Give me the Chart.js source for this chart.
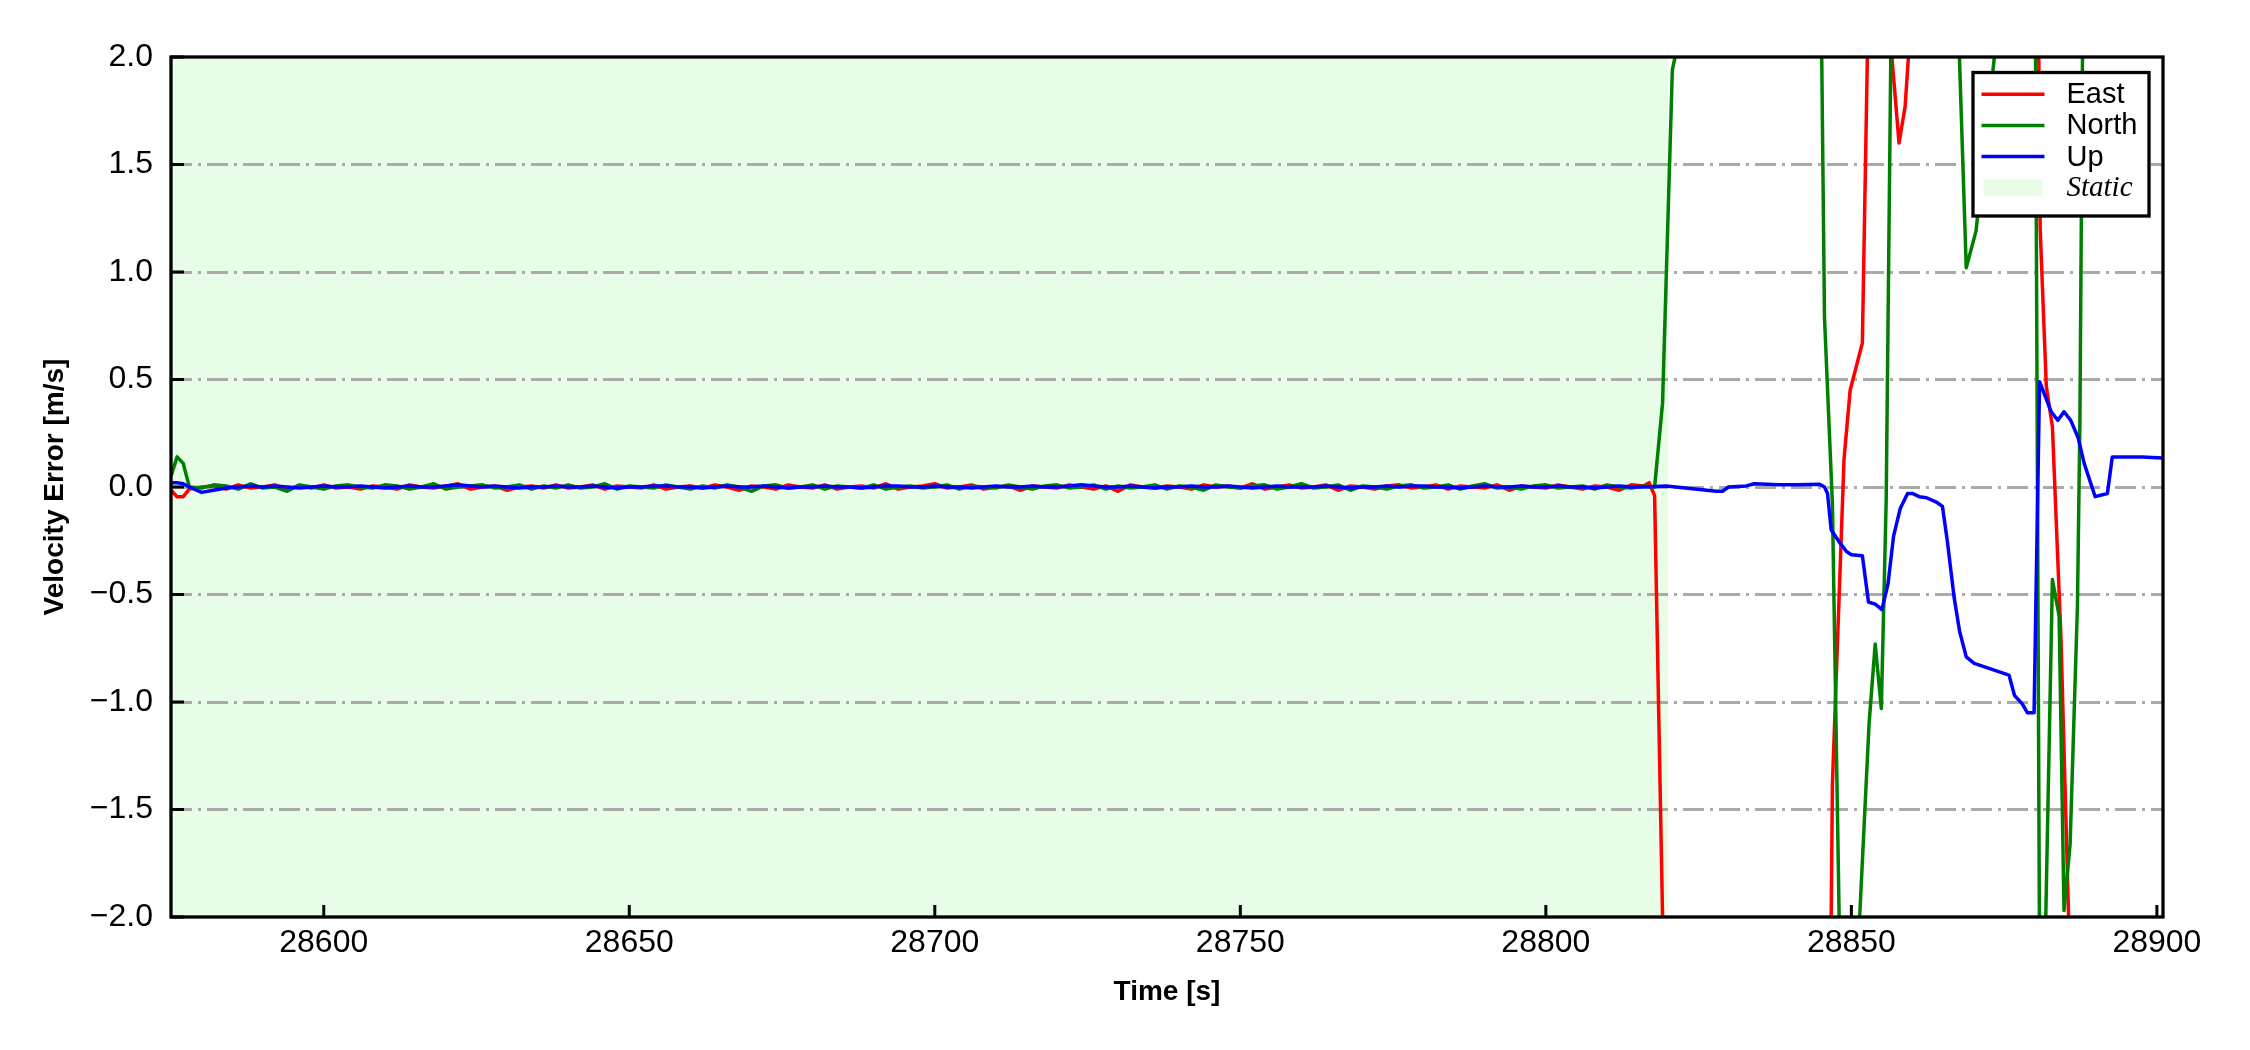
<!DOCTYPE html>
<html lang="en">
  <head>
    <meta charset="UTF-8" />
    <meta name="viewport" content="width=device-width, initial-scale=1.0" />
    <script src="https://cdn.jsdelivr.net/npm/chart.js@4.4.1/dist/chart.umd.min.js"></script>
    <title>Velocity Error</title>
    <style>
      html,
      body {
        margin: 0;
        padding: 0;
        background-color: rgb(255, 255, 255);
      }

      canvas {
        display: block;
      }
    </style>
  </head>
  <body>
    <canvas id="myChart" width="2250" height="1050"></canvas>
    <script>
      // static part: every series sampled at the same times
      const flatTimes = [
        28575, 28576, 28577, 28578,
        28580, 28582, 28584, 28586, 28588, 28590, 28592, 28594, 28596, 28598,
        28600, 28602, 28604, 28606, 28608, 28610, 28612, 28614, 28616, 28618,
        28620, 28622, 28624, 28626, 28628, 28630, 28632, 28634, 28636, 28638,
        28640, 28642, 28644, 28646, 28648, 28650, 28652, 28654, 28656, 28658,
        28660, 28662, 28664, 28666, 28668, 28670, 28672, 28674, 28676, 28678,
        28680, 28682, 28684, 28686, 28688, 28690, 28692, 28694, 28696, 28698,
        28700, 28702, 28704, 28706, 28708, 28710, 28712, 28714, 28716, 28718,
        28720, 28722, 28724, 28726, 28728, 28730, 28732, 28734, 28736, 28738,
        28740, 28742, 28744, 28746, 28748, 28750, 28752, 28754, 28756, 28758,
        28760, 28762, 28764, 28766, 28768, 28770, 28772, 28774, 28776, 28778,
        28780, 28782, 28784, 28786, 28788, 28790, 28792, 28794, 28796, 28798,
        28800, 28802, 28804, 28806, 28808, 28810, 28812, 28814, 28816
      ];

      const eastFlat = [
        -0.015, -0.045, -0.045, -0.01,
        0.0, 0.005, -0.01, 0.01, -0.005, 0.0, 0.01, -0.01, 0.005, -0.005,
        0.01, -0.005, 0.0, -0.01, 0.005, 0.0, -0.01, 0.01, 0.0, -0.005,
        0.005, 0.015, -0.01, 0.0, 0.005, -0.015, 0.0, 0.005, -0.005, 0.01,
        -0.005, 0.0, 0.01, -0.01, 0.005, 0.0, -0.005, 0.01, -0.01, 0.0,
        0.005, -0.005, 0.01, 0.0, -0.015, 0.005, 0.0, -0.01, 0.01, 0.0,
        -0.005, 0.01, -0.01, 0.0, 0.005, -0.005, 0.015, -0.01, 0.0, 0.005,
        0.015, -0.005, 0.0, 0.01, -0.01, 0.0, 0.005, -0.015, 0.005, 0.0,
        -0.005, 0.01, 0.0, -0.01, 0.005, -0.02, 0.01, 0.0, -0.005, 0.005,
        0.0, -0.01, 0.01, 0.0, 0.005, -0.005, 0.015, -0.01, 0.0, 0.01,
        -0.005, 0.0, 0.01, -0.015, 0.005, 0.0, -0.01, 0.005, 0.01, -0.005,
        0.0, 0.01, -0.01, 0.005, 0.0, -0.005, 0.01, -0.015, 0.005, 0.0,
        -0.005, 0.01, 0.0, -0.01, 0.005, 0.0, -0.015, 0.01, 0.005
      ];

      const northFlat = [
        0.05, 0.14, 0.11, 0.0,
        -0.005, 0.01, 0.005, -0.01, 0.015, -0.005, 0.0, -0.02, 0.01, 0.0,
        -0.01, 0.005, 0.01, 0.0, -0.005, 0.01, 0.005, -0.01, 0.0, 0.015,
        -0.01, 0.0, 0.005, 0.01, -0.005, 0.0, 0.01, -0.01, 0.005, -0.005,
        0.01, -0.005, 0.0, 0.015, -0.01, 0.005, 0.0, -0.005, 0.01, 0.0,
        -0.01, 0.005, -0.005, 0.01, 0.0, -0.02, 0.005, 0.01, -0.005, 0.0,
        0.01, -0.01, 0.005, 0.0, -0.005, 0.01, -0.01, 0.0, 0.005, -0.005,
        0.0, 0.01, -0.01, 0.005, 0.0, -0.005, 0.01, 0.0, -0.01, 0.005,
        0.01, -0.005, 0.0, 0.01, -0.01, 0.005, -0.005, 0.0, 0.01, -0.01,
        0.005, 0.0, -0.015, 0.01, 0.0, -0.005, 0.005, 0.01, -0.01, 0.0,
        0.015, -0.005, 0.0, 0.01, -0.015, 0.005, 0.0, -0.01, 0.005, 0.01,
        -0.005, 0.0, 0.01, -0.01, 0.005, 0.015, -0.005, 0.0, -0.01, 0.005,
        0.01, -0.005, 0.0, 0.005, -0.01, 0.01, 0.0, -0.005, 0.005
      ];

      const upFlat = [
        0.02, 0.02, 0.015, 0.0,
        -0.025, -0.015, -0.005, 0.0, 0.005, 0.0, 0.005, 0.0, -0.005, 0.0,
        0.005, 0.0, 0.0, 0.005, 0.0, -0.005, 0.0, 0.005, 0.0, 0.0,
        0.005, 0.01, 0.005, 0.0, 0.005, 0.0, -0.005, 0.0, 0.0, 0.005,
        0.0, 0.0, 0.005, 0.0, -0.005, 0.0, 0.0, 0.005, 0.005, 0.0,
        0.0, -0.005, 0.0, 0.005, 0.0, 0.0, 0.005, 0.0, -0.005, 0.0,
        0.0, 0.005, 0.0, 0.0, -0.005, 0.0, 0.005, 0.005, 0.0, 0.0,
        0.005, 0.0, 0.0, -0.005, 0.0, 0.005, 0.0, 0.0, 0.005, 0.0,
        0.0, 0.005, 0.01, 0.005, 0.0, 0.0, 0.005, 0.0, -0.005, 0.0,
        0.0, 0.005, 0.0, 0.0, 0.005, 0.0, -0.005, 0.0, 0.005, 0.0,
        0.0, 0.0, 0.005, 0.0, -0.005, 0.0, 0.0, 0.005, 0.0, 0.005,
        0.005, 0.0, 0.0, -0.005, 0.0, 0.005, 0.0, 0.0, 0.005, 0.0,
        0.0, 0.005, 0.0, 0.0, -0.005, 0.0, 0.005, 0.0, 0.0
      ];

      // after the static part (values past +-2 are off the plot)
      const eastTimes = [
        28816.9, 28817.8, 28819.5, 28830, 28840, 28846.5, 28846.9, 28848.8,
        28849.8, 28851.8, 28852.8, 28854.5, 28856.2, 28857.8, 28858.8, 28859.8,
        28865, 28875, 28880.5, 28880.9, 28881.9, 28882.9, 28884.3, 28885.6,
        28886.5, 28895, 28901
      ];
      const eastValues = [
        0.02, -0.04, -2.6, -3.0, -3.0, -2.6, -1.38, 0.13,
        0.45, 0.67, 2.3, 3.0, 2.15, 1.6, 1.77, 2.2,
        3.2, 3.0, 2.6, 1.2, 0.47, 0.28, -0.7, -2.05,
        -2.6, -3.0, -3.0
      ];

      const northTimes = [
        28817.8, 28819.1, 28820.7, 28821.9, 28830, 28840, 28845.0, 28845.6,
        28846.9, 28848.0, 28848.3, 28850.5, 28852.9, 28853.9, 28854.9, 28855.7,
        28857.0, 28862, 28867.0, 28868.8, 28870.4, 28873.4, 28874.5, 28880.1,
        28880.8, 28881.4, 28882.9, 28884.0, 28884.8, 28885.8, 28887.0, 28887.4,
        28887.9, 28890, 28901
      ];
      const northValues = [
        0.0, 0.39, 1.94, 2.1, 3.0, 3.0, 2.4, 0.79,
        -0.08, -2.0, -2.5, -2.5, -1.1, -0.73, -1.03, -0.06,
        3.5, 3.5, 2.6, 1.02, 1.19, 2.0, 2.3, 2.3,
        -2.2, -2.6, -0.43, -0.6, -1.97, -1.66, -0.55, 0.3,
        2.3, 3.0, 3.0
      ];

      const upTimes = [
        28819.7, 28827.9, 28828.9, 28829.9, 28832.8, 28834.1, 28838.2, 28841.0,
        28844.8, 28845.6, 28846.1, 28846.7, 28848.0, 28849.2, 28850.0, 28851.8,
        28852.8, 28853.9, 28855.0, 28856.0, 28856.9, 28858.0, 28859.2, 28860.0,
        28861.1, 28862.3, 28863.9, 28864.9, 28865.7, 28866.8, 28867.7, 28868.8,
        28870.1, 28875.8, 28876.7, 28878.0, 28878.8, 28879.9, 28880.8, 28882.7,
        28883.8, 28884.8, 28885.9, 28887.1, 28888.1, 28889.9, 28891.9, 28892.7,
        28897.6, 28900.9
      ];
      const upValues = [
        0.005, -0.02, -0.02, 0.0, 0.005, 0.015, 0.01, 0.01,
        0.013, 0.0, -0.03, -0.2, -0.255, -0.3, -0.315, -0.32,
        -0.535, -0.545, -0.57, -0.45, -0.23, -0.1, -0.03, -0.03,
        -0.045, -0.05, -0.07, -0.09, -0.25, -0.51, -0.67, -0.79,
        -0.82, -0.875, -0.97, -1.01, -1.05, -1.05, 0.49, 0.35,
        0.31, 0.35, 0.31, 0.23, 0.11, -0.045, -0.03, 0.14,
        0.14, 0.135
      ];

      const staticSpan = [28575, 28820];

      const xTickValues = [28600, 28650, 28700, 28750, 28800, 28850, 28900];
      const yTickValues = [-2.0, -1.5, -1.0, -0.5, 0.0, 0.5, 1.0, 1.5, 2.0];

      const seriesNames = ["East", "North", "Up"];
      const seriesColors = ["#ff0000", "#008000", "#0000ff"];
      const staticColor = "rgb(232, 253, 232)";

      const SANS = "'Liberation Sans', Arial, sans-serif";

      function toPoints(times, values) {
        return times.map((t, i) => ({ x: t, y: values[i] }));
      }

      const eastData = toPoints(flatTimes, eastFlat).concat(toPoints(eastTimes, eastValues));
      const northData = toPoints(flatTimes, northFlat).concat(toPoints(northTimes, northValues));
      const upData = toPoints(flatTimes, upFlat).concat(toPoints(upTimes, upValues));

      // inward ticks, frame and the legend box drawn over the lines
      const frameAndLegend = {
        id: "frameAndLegend",
        afterDatasetsDraw(chart) {
          const { ctx, chartArea: a, scales } = chart;
          ctx.save();

          ctx.strokeStyle = "#000";
          ctx.lineWidth = 3;
          ctx.beginPath();
          yTickValues.forEach(v => {
            const py = scales.y.getPixelForValue(v);
            ctx.moveTo(a.left, py);
            ctx.lineTo(a.left + 13, py);
          });
          xTickValues.forEach(v => {
            const px = scales.x.getPixelForValue(v);
            ctx.moveTo(px, a.bottom);
            ctx.lineTo(px, a.bottom - 12);
          });
          ctx.stroke();

          ctx.lineWidth = 3.3;
          ctx.strokeRect(a.left, a.top, a.right - a.left, a.bottom - a.top);

          // legend
          const bx = a.right - 190;
          const by = a.top + 15.5;
          const bw = 176;
          const bh = 143.5;
          ctx.fillStyle = "#fff";
          ctx.fillRect(bx, by, bw, bh);
          ctx.lineWidth = 3.3;
          ctx.strokeRect(bx, by, bw, bh);

          const rowY = i => by + 21.7 + i * 31.2;
          ctx.textBaseline = "middle";
          ctx.textAlign = "left";
          seriesNames.forEach((name, i) => {
            ctx.strokeStyle = seriesColors[i];
            ctx.lineWidth = 3.5;
            ctx.beginPath();
            ctx.moveTo(bx + 8.5, rowY(i));
            ctx.lineTo(bx + 71.5, rowY(i));
            ctx.stroke();
            ctx.fillStyle = "#000";
            ctx.font = "29px " + SANS;
            ctx.fillText(name, bx + 93.5, rowY(i) + 1);
          });
          ctx.fillStyle = staticColor;
          ctx.fillRect(bx + 10.5, rowY(3) - 8.5, 59, 17);
          ctx.fillStyle = "#000";
          ctx.font = "italic 29px 'Liberation Serif', 'Times New Roman', serif";
          ctx.fillText("Static", bx + 93.5, rowY(3) + 1);

          ctx.restore();
        }
      };

      const lineStyle = {
        borderWidth: 3.5,
        pointRadius: 0,
        tension: 0,
        fill: false,
        borderJoinStyle: "round"
      };

      const ctx = document.getElementById("myChart").getContext("2d");
      const myChart = new Chart(ctx, {
        type: "line",
        data: {
          datasets: [
            {
              label: "Static",
              data: [
                { x: staticSpan[0], y: 2 },
                { x: staticSpan[1], y: 2 }
              ],
              fill: "start",
              backgroundColor: staticColor,
              borderWidth: 0,
              pointRadius: 0,
              order: 4
            },
            { ...lineStyle, label: seriesNames[0], data: eastData, borderColor: seriesColors[0], order: 3 },
            { ...lineStyle, label: seriesNames[1], data: northData, borderColor: seriesColors[1], order: 2 },
            { ...lineStyle, label: seriesNames[2], data: upData, borderColor: seriesColors[2], order: 1 }
          ]
        },
        options: {
          responsive: false,
          animation: false,
          devicePixelRatio: 1,
          layout: {
            padding: { left: 0, top: 57, right: 87, bottom: 0 }
          },
          plugins: {
            legend: { display: false },
            tooltip: { enabled: false },
            filler: { drawTime: "beforeDraw" }
          },
          scales: {
            x: {
              type: "linear",
              min: 28575,
              max: 28901,
              afterBuildTicks: scale => {
                scale.ticks = xTickValues.map(v => ({ value: v }));
              },
              afterFit: scale => {
                scale.height = 133;
              },
              grid: { display: false, drawTicks: false },
              border: { display: false },
              ticks: {
                padding: 7,
                color: "#000",
                font: { family: SANS, size: 32 },
                callback: v => String(v)
              },
              title: {
                display: true,
                text: "Time [s]",
                color: "#000",
                font: { family: SANS, size: 28, weight: "bold" },
                padding: { top: 0, bottom: 41 }
              }
            },
            y: {
              type: "linear",
              min: -2,
              max: 2,
              afterBuildTicks: scale => {
                scale.ticks = yTickValues.map(v => ({ value: v }));
              },
              afterFit: scale => {
                scale.width = 171;
              },
              grid: {
                drawTicks: false,
                lineWidth: 3,
                color: c => (Math.abs(c.tick.value) === 2 ? "rgba(0,0,0,0)" : "#aaaaaa")
              },
              border: { display: false, dash: [21, 6, 3, 6] },
              ticks: {
                padding: 18,
                color: "#000",
                font: { family: SANS, size: 32 },
                callback: v => (v < 0 ? "\u2212" : "") + Math.abs(v).toFixed(1)
              },
              title: {
                display: true,
                text: "Velocity Error [m/s]",
                color: "#000",
                font: { family: SANS, size: 28, weight: "bold" },
                padding: { top: 38, bottom: 0 }
              }
            }
          }
        },
        plugins: [frameAndLegend]
      });
    </script>
  </body>
</html>
